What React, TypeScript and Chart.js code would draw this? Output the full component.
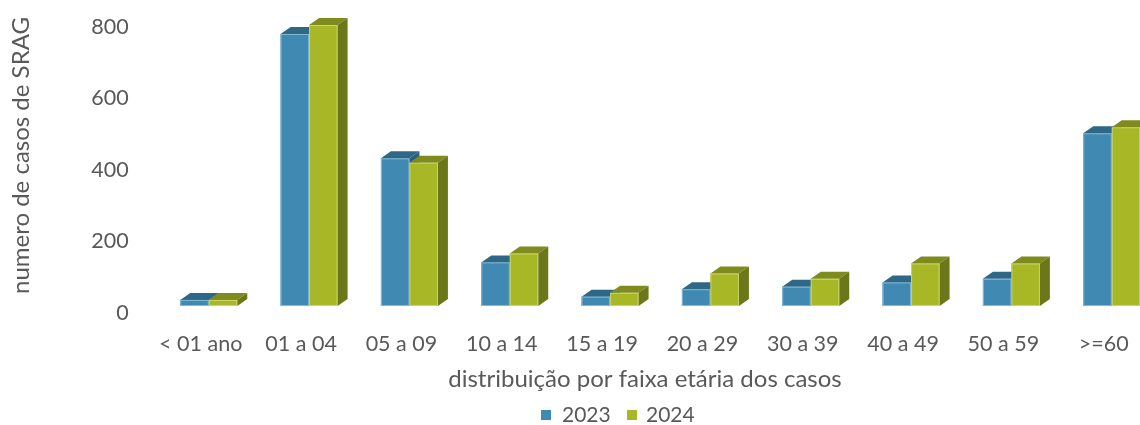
import React, { useEffect, useRef } from "react";
import { Chart, registerables } from "chart.js";

Chart.register(...registerables);

const categories = ["< 01 ano", "01 a 04", "05 a 09", "10 a 14", "15 a 19", "20 a 29", "30 a 39", "40 a 49", "50 a 59", ">=60"];
const values2023 = [17, 761, 413, 122, 26, 47, 54, 66, 76, 483];
const values2024 = [17, 786, 401, 147, 37, 91, 76, 119, 119, 500];
const seriesNames = ["2023", "2024"];
const yTicks = [0, 200, 400, 600, 800];

const xTitle = "distribuição por faixa etária dos casos";
const yTitle = "numero de casos de SRAG";

const FONT = "Lato, 'Open Sans', sans-serif";
const TEXT = "#595959";
const COLORS = [
  { front: "#3F89B2", top: "#2E6887", side: "#2A607D", edge: "rgba(190,220,240,0.55)" },
  { front: "#A8B726", top: "#7F8B1C", side: "#6B7719", edge: "rgba(230,240,170,0.55)" },
];
const DX = 10;
const DY = 7;

const bar3d = {
  id: "bar3d",
  afterDatasetsDraw(chart: any) {
    const ctx = chart.ctx;
    chart.data.datasets.forEach((_ds: any, di: number) => {
      const meta = chart.getDatasetMeta(di);
      const c = COLORS[di];
      meta.data.forEach((el: any) => {
        const { x, y, base, width } = el.getProps(["x", "y", "base", "width"], true);
        const l = x - width / 2;
        const r = x + width / 2;
        ctx.save();
        ctx.fillStyle = c.front;
        ctx.fillRect(l, y, width, base - y);
        ctx.beginPath();
        ctx.moveTo(l, y);
        ctx.lineTo(r, y);
        ctx.lineTo(r + DX, y - DY);
        ctx.lineTo(l + DX, y - DY);
        ctx.closePath();
        ctx.fillStyle = c.top;
        ctx.fill();
        ctx.beginPath();
        ctx.moveTo(r, y);
        ctx.lineTo(r + DX, y - DY);
        ctx.lineTo(r + DX, base - DY);
        ctx.lineTo(r, base);
        ctx.closePath();
        ctx.fillStyle = c.side;
        ctx.fill();
        ctx.strokeStyle = c.edge;
        ctx.lineWidth = 1;
        ctx.strokeRect(l + 0.5, y + 0.5, width - 1, base - y - 1);
        ctx.restore();
      });
    });
  },
  afterDraw(chart: any) {
    const ctx = chart.ctx;
    ctx.save();
    ctx.fillStyle = TEXT;
    ctx.font = `24px ${FONT}`;
    ctx.textAlign = "center";
    ctx.textBaseline = "middle";
    ctx.fillText(xTitle, 645, 379);
    ctx.save();
    ctx.translate(21, 155.5);
    ctx.rotate(-Math.PI / 2);
    ctx.fillText(yTitle, 0, 0);
    ctx.restore();
    ctx.font = `21px ${FONT}`;
    ctx.textAlign = "left";
    const legendItems = [
      { box: 541, text: 562 },
      { box: 627, text: 646 },
    ];
    legendItems.forEach((it, i) => {
      ctx.fillStyle = COLORS[i].front;
      ctx.fillRect(it.box, 410, 10, 10);
      ctx.fillStyle = TEXT;
      ctx.fillText(seriesNames[i], it.text, 415);
    });
    ctx.restore();
  },
};

export default function App() {
  const ref = useRef<HTMLCanvasElement>(null);
  useEffect(() => {
    if (!ref.current) return;
    const chart = new Chart(ref.current, {
      type: "bar",
      data: {
        labels: categories,
        datasets: [
          { label: seriesNames[0], data: values2023, backgroundColor: COLORS[0].front, borderWidth: 0 },
          { label: seriesNames[1], data: values2024, backgroundColor: COLORS[1].front, borderWidth: 0 },
        ],
      },
      options: {
        animation: false,
        responsive: false,
        layout: { padding: { top: 20, right: 38.1, left: 0, bottom: 0 } },
        plugins: { legend: { display: false }, tooltip: { enabled: false } },
        datasets: { bar: { barPercentage: 1, categoryPercentage: 0.568 } },
        scales: {
          x: {
            grid: { display: false, drawTicks: false, tickLength: 0 },
            border: { display: false },
            ticks: { color: TEXT, font: { family: FONT, size: 21.5 }, padding: 25.5, labelOffset: -8, maxRotation: 0, autoSkip: false },
            afterFit: (scale: any) => {
              scale.height = 119;
              scale.paddingLeft = 0;
              scale.paddingRight = 0;
            },
          },
          y: {
            min: 0,
            max: 800,
            grid: { display: false, drawTicks: false, tickLength: 0 },
            border: { display: false },
            afterBuildTicks: (scale: any) => {
              scale.ticks = yTicks.map((v) => ({ value: v }));
            },
            ticks: { color: TEXT, font: { family: FONT, size: 21.5 }, padding: 30, labelOffset: 7 },
            afterFit: (scale: any) => {
              scale.width = 158.6;
              scale.paddingTop = 0;
              scale.paddingBottom = 0;
            },
          },
        },
      },
      plugins: [bar3d],
    });
    return () => chart.destroy();
  }, []);
  return (
    <div style={{ position: "fixed", left: 0, top: 0, width: 1140, height: 425, overflow: "hidden", background: "#fff" }}>
      <canvas ref={ref} width={1200} height={425} style={{ display: "block" }} />
    </div>
  );
}
